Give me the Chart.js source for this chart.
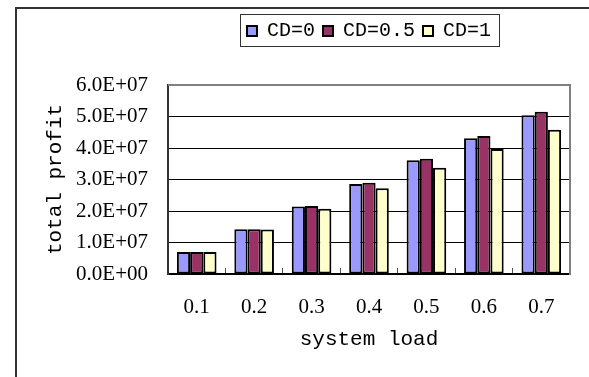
<!DOCTYPE html>
<html>
<head>
<meta charset="utf-8">
<script src="https://cdn.jsdelivr.net/npm/chart.js@4/dist/chart.umd.min.js"></script>
<style>
  html, body { margin: 0; padding: 0; background: #ffffff; }
  #wrap { position: relative; width: 589px; height: 377px; }
</style>
</head>
<body>
<div id="wrap"><canvas id="c"></canvas></div>
<script>
const categories = ['0.1', '0.2', '0.3', '0.4', '0.5', '0.6', '0.7'];
const seriesNames = ['CD=0', 'CD=0.5', 'CD=1'];
const cd0Values  = [7.0e6, 1.42e7, 2.14e7, 2.86e7, 3.61e7, 4.31e7, 5.04e7];
const cd05Values = [7.0e6, 1.42e7, 2.16e7, 2.90e7, 3.66e7, 4.38e7, 5.15e7];
const cd1Values  = [7.0e6, 1.41e7, 2.07e7, 2.72e7, 3.37e7, 3.97e7, 4.58e7];
const yTickLabels = ['0.0E+00', '1.0E+07', '2.0E+07', '3.0E+07', '4.0E+07', '5.0E+07', '6.0E+07'];
const seriesColors = ['#9999FF', '#993366', '#FFFFCC'];
const xTitle = 'system load';
const yTitle = 'total profit';

const PAD_TOP = 13;
const LEGEND_BLOCK = 72; // legend block height, so the plot starts below it

function patchLegend(chart) {
  const lg = chart.legend;
  if (lg && !lg._patchedFit) {
    const orig = lg.fit.bind(lg);
    lg.fit = function () { orig(); this.height = LEGEND_BLOCK; };
    lg._patchedFit = true;
  }
}

const frameAndBoxes = {
  id: 'frameAndBoxes',
  afterInit(chart) { patchLegend(chart); },
  beforeUpdate(chart) { patchLegend(chart); },
  beforeLayout(chart) { patchLegend(chart); },
  beforeDraw(chart) {
    const ctx = chart.ctx;
    ctx.save();
    ctx.strokeStyle = '#333333';
    ctx.lineWidth = 2;
    ctx.beginPath();
    ctx.moveTo(16, chart.height);
    ctx.lineTo(16, 8);
    ctx.lineTo(chart.width, 8);
    ctx.stroke();
    ctx.restore();
  },
  beforeDatasetsDraw(chart) {
    const ctx = chart.ctx;
    const a = chart.chartArea;
    ctx.save();
    ctx.strokeStyle = '#808080';
    ctx.lineWidth = 2;
    ctx.beginPath();
    ctx.moveTo(a.left, a.top);
    ctx.lineTo(a.right, a.top);
    ctx.lineTo(a.right, a.bottom + 1);
    ctx.stroke();
    ctx.restore();
  },
  afterDraw(chart) {
    const lg = chart.legend;
    if (!lg || !lg.legendHitBoxes || !lg.legendHitBoxes.length) return;
    const hb = lg.legendHitBoxes;
    const first = hb[0], last = hb[hb.length - 1];
    const left = first.left - 7;
    const right = last.left + last.width + 8;
    const top = first.top - 7;
    const bottom = first.top + first.height + 5;
    const ctx = chart.ctx;
    ctx.save();
    ctx.strokeStyle = '#333333';
    ctx.lineWidth = 1;
    ctx.strokeRect(Math.round(left) + 0.5, Math.round(top) + 0.5, Math.round(right - left), Math.round(bottom - top));
    ctx.restore();
  }
};

const valueSets = [cd0Values, cd05Values, cd1Values];
const datasets = seriesNames.map((name, i) => ({
  label: name,
  data: valueSets[i],
  backgroundColor: seriesColors[i],
  borderColor: '#000000',
  borderWidth: 2,
  borderSkipped: false,
  categoryPercentage: 0.69,
  barPercentage: 1.0
}));

new Chart(document.getElementById('c'), {
  type: 'bar',
  data: { labels: categories, datasets: datasets },
  options: {
    responsive: true,
    maintainAspectRatio: false,
    animation: false,
    devicePixelRatio: 1,
    layout: { padding: { left: 43, right: 19, top: PAD_TOP, bottom: 25 } },
    plugins: {
      tooltip: { enabled: false },
      legend: {
        position: 'top',
        fullSize: false,
        align: 'center',
        labels: {
          boxWidth: 10,
          boxHeight: 10,
          padding: 8,
          color: '#000000',
          font: { family: '"Liberation Mono", monospace', size: 20 }
        }
      }
    },
    scales: {
      x: {
        offset: true,
        afterFit(scale) { scale.height = 78; },
        grid: {
          display: true,
          offset: true,
          drawOnChartArea: false,
          drawTicks: true,
          tickLength: -6,
          color: '#555555',
          lineWidth: 1
        },
        border: { display: true, color: '#000000', width: 2 },
        ticks: {
          color: '#000000',
          padding: 27,
          maxRotation: 0,
          font: { family: '"Liberation Serif", serif', size: 21 }
        },
        title: {
          display: true,
          text: xTitle,
          color: '#000000',
          padding: 0,
          font: { family: '"Liberation Mono", monospace', size: 21 }
        }
      },
      y: {
        min: 0,
        max: 6e7,
        afterFit(scale) { scale.width = 125; },
        grid: {
          color: (c) => (c.tick && c.tick.value === 6e7) ? '#808080' : '#000000',
          lineWidth: 1,
          drawTicks: false
        },
        border: { display: true, color: '#333333', width: 2 },
        ticks: {
          stepSize: 1e7,
          padding: 20,
          color: '#000000',
          font: { family: '"Liberation Serif", serif', size: 21 },
          callback: (value) => yTickLabels[Math.round(value / 1e7)]
        },
        title: {
          display: true,
          text: yTitle,
          color: '#000000',
          padding: 0,
          font: { family: '"Liberation Mono", monospace', size: 21 }
        }
      }
    }
  },
  plugins: [frameAndBoxes]
});
</script>
</body>
</html>
